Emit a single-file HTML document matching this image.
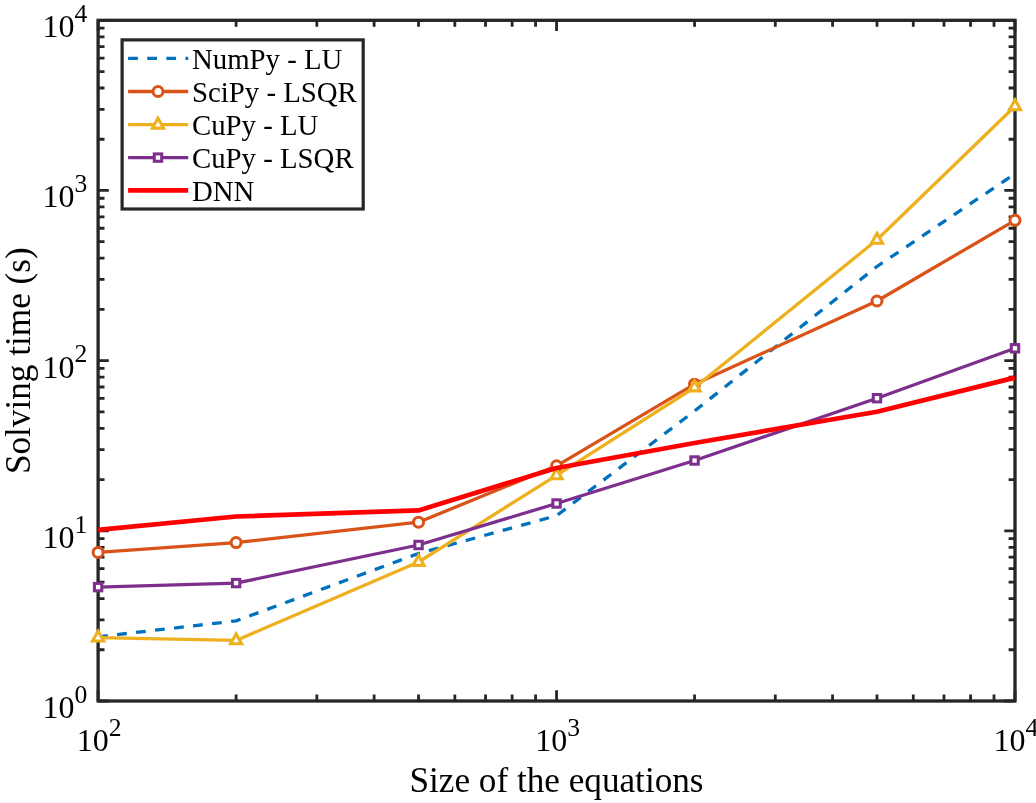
<!DOCTYPE html>
<html lang="en"><head><meta charset="utf-8"><title>Solving time vs size of the equations</title>
<style>
html,body{margin:0;padding:0;background:#fff;}
body{width:1036px;height:803px;overflow:hidden;}
svg{display:block;}
text{font-family:"Liberation Serif","Times New Roman",serif;fill:#000;}
.lg{font-size:28.8px;}
.tk{font-size:32px;}
.sp{font-size:25.6px;}
.al{font-size:35.2px;}
</style></head><body>
<svg width="1036" height="803" viewBox="0 0 1036 803">
<rect width="1036" height="803" fill="#fff"/>
<path d="M98.10 701.0v-10.7M98.10 20.3v10.7M236.11 701.0v-6.4M236.11 20.3v6.4M316.84 701.0v-6.4M316.84 20.3v6.4M374.11 701.0v-6.4M374.11 20.3v6.4M418.54 701.0v-6.4M418.54 20.3v6.4M454.84 701.0v-6.4M454.84 20.3v6.4M485.54 701.0v-6.4M485.54 20.3v6.4M512.12 701.0v-6.4M512.12 20.3v6.4M535.57 701.0v-6.4M535.57 20.3v6.4M556.55 701.0v-10.7M556.55 20.3v10.7M694.56 701.0v-6.4M694.56 20.3v6.4M775.29 701.0v-6.4M775.29 20.3v6.4M832.56 701.0v-6.4M832.56 20.3v6.4M876.99 701.0v-6.4M876.99 20.3v6.4M913.29 701.0v-6.4M913.29 20.3v6.4M943.99 701.0v-6.4M943.99 20.3v6.4M970.57 701.0v-6.4M970.57 20.3v6.4M994.02 701.0v-6.4M994.02 20.3v6.4M1015.00 701.0v-10.7M1015.00 20.3v10.7M98.1 701.00h10.7M1015.0 701.00h-10.7M98.1 649.77h6.4M1015.0 649.77h-6.4M98.1 619.81h6.4M1015.0 619.81h-6.4M98.1 598.54h6.4M1015.0 598.54h-6.4M98.1 582.05h6.4M1015.0 582.05h-6.4M98.1 568.58h6.4M1015.0 568.58h-6.4M98.1 557.19h6.4M1015.0 557.19h-6.4M98.1 547.32h6.4M1015.0 547.32h-6.4M98.1 538.61h6.4M1015.0 538.61h-6.4M98.1 530.83h10.7M1015.0 530.83h-10.7M98.1 479.60h6.4M1015.0 479.60h-6.4M98.1 449.63h6.4M1015.0 449.63h-6.4M98.1 428.37h6.4M1015.0 428.37h-6.4M98.1 411.88h6.4M1015.0 411.88h-6.4M98.1 398.40h6.4M1015.0 398.40h-6.4M98.1 387.01h6.4M1015.0 387.01h-6.4M98.1 377.14h6.4M1015.0 377.14h-6.4M98.1 368.44h6.4M1015.0 368.44h-6.4M98.1 360.65h10.7M1015.0 360.65h-10.7M98.1 309.42h6.4M1015.0 309.42h-6.4M98.1 279.46h6.4M1015.0 279.46h-6.4M98.1 258.19h6.4M1015.0 258.19h-6.4M98.1 241.70h6.4M1015.0 241.70h-6.4M98.1 228.23h6.4M1015.0 228.23h-6.4M98.1 216.84h6.4M1015.0 216.84h-6.4M98.1 206.97h6.4M1015.0 206.97h-6.4M98.1 198.26h6.4M1015.0 198.26h-6.4M98.1 190.47h10.7M1015.0 190.47h-10.7M98.1 139.25h6.4M1015.0 139.25h-6.4M98.1 109.28h6.4M1015.0 109.28h-6.4M98.1 88.02h6.4M1015.0 88.02h-6.4M98.1 71.53h6.4M1015.0 71.53h-6.4M98.1 58.05h6.4M1015.0 58.05h-6.4M98.1 46.66h6.4M1015.0 46.66h-6.4M98.1 36.79h6.4M1015.0 36.79h-6.4M98.1 28.09h6.4M1015.0 28.09h-6.4M98.1 20.30h10.7M1015.0 20.30h-10.7" stroke="#262626" stroke-width="2.8" fill="none"/>
<rect x="98.1" y="20.3" width="916.90" height="680.70" fill="none" stroke="#262626" stroke-width="3.3"/>
<polyline points="98.10,636.80 236.11,620.90 418.54,553.50 556.55,515.70 694.56,411.00 876.99,266.50 1015.00,173.80" fill="none" stroke="#0072BD" stroke-width="3.3" stroke-dasharray="9.75 9.37" stroke-linejoin="round"/>
<polyline points="98.10,552.40 236.11,542.60 418.54,522.20 556.55,465.80 694.56,384.20 876.99,301.00 1015.00,220.30" fill="none" stroke="#D95319" stroke-width="3.3" stroke-linejoin="round"/>
<circle cx="98.10" cy="552.40" r="5" fill="#fff" stroke="#D95319" stroke-width="3"/>
<circle cx="236.11" cy="542.60" r="5" fill="#fff" stroke="#D95319" stroke-width="3"/>
<circle cx="418.54" cy="522.20" r="5" fill="#fff" stroke="#D95319" stroke-width="3"/>
<circle cx="556.55" cy="465.80" r="5" fill="#fff" stroke="#D95319" stroke-width="3"/>
<circle cx="694.56" cy="384.20" r="5" fill="#fff" stroke="#D95319" stroke-width="3"/>
<circle cx="876.99" cy="301.00" r="5" fill="#fff" stroke="#D95319" stroke-width="3"/>
<circle cx="1015.00" cy="220.30" r="5" fill="#fff" stroke="#D95319" stroke-width="3"/>
<polyline points="98.10,637.60 236.11,640.40 418.54,562.00 556.55,475.30 694.56,387.50 876.99,239.80 1015.00,106.30" fill="none" stroke="#EDB120" stroke-width="3.3" stroke-linejoin="round"/>
<path d="M98.10 631.10L103.65 641.00L92.55 641.00Z" fill="#fff" stroke="#EDB120" stroke-width="3.1" stroke-miterlimit="10"/>
<path d="M236.11 633.90L241.66 643.80L230.56 643.80Z" fill="#fff" stroke="#EDB120" stroke-width="3.1" stroke-miterlimit="10"/>
<path d="M418.54 555.50L424.09 565.40L412.99 565.40Z" fill="#fff" stroke="#EDB120" stroke-width="3.1" stroke-miterlimit="10"/>
<path d="M556.55 468.80L562.10 478.70L551.00 478.70Z" fill="#fff" stroke="#EDB120" stroke-width="3.1" stroke-miterlimit="10"/>
<path d="M694.56 381.00L700.11 390.90L689.01 390.90Z" fill="#fff" stroke="#EDB120" stroke-width="3.1" stroke-miterlimit="10"/>
<path d="M876.99 233.30L882.54 243.20L871.44 243.20Z" fill="#fff" stroke="#EDB120" stroke-width="3.1" stroke-miterlimit="10"/>
<path d="M1015.00 99.80L1020.55 109.70L1009.45 109.70Z" fill="#fff" stroke="#EDB120" stroke-width="3.1" stroke-miterlimit="10"/>
<polyline points="98.10,587.10 236.11,583.10 418.54,545.00 556.55,503.50 694.56,460.50 876.99,398.20 1015.00,348.30" fill="none" stroke="#7E2F8E" stroke-width="3.3" stroke-linejoin="round"/>
<rect x="94.40" y="583.40" width="7.4" height="7.4" fill="#fff" stroke="#7E2F8E" stroke-width="3.05"/>
<rect x="232.41" y="579.40" width="7.4" height="7.4" fill="#fff" stroke="#7E2F8E" stroke-width="3.05"/>
<rect x="414.84" y="541.30" width="7.4" height="7.4" fill="#fff" stroke="#7E2F8E" stroke-width="3.05"/>
<rect x="552.85" y="499.80" width="7.4" height="7.4" fill="#fff" stroke="#7E2F8E" stroke-width="3.05"/>
<rect x="690.86" y="456.80" width="7.4" height="7.4" fill="#fff" stroke="#7E2F8E" stroke-width="3.05"/>
<rect x="873.29" y="394.50" width="7.4" height="7.4" fill="#fff" stroke="#7E2F8E" stroke-width="3.05"/>
<rect x="1011.30" y="344.60" width="7.4" height="7.4" fill="#fff" stroke="#7E2F8E" stroke-width="3.05"/>
<polyline points="98.10,529.90 236.11,516.50 418.54,510.40 556.55,468.00 694.56,443.00 876.99,411.70 1015.00,377.60" fill="none" stroke="#FF0000" stroke-width="4.7" stroke-linejoin="round"/>
<rect x="122.1" y="39.9" width="241.10" height="169.10" fill="#fff" stroke="#262626" stroke-width="3.2"/>
<path d="M128.1 58.4H188.2" stroke="#0072BD" stroke-width="3.3" fill="none" stroke-dasharray="9.75 9.37"/>
<text class="lg" x="192.0" y="68.80">NumPy - LU</text>
<path d="M128.1 91.5H188.2" stroke="#D95319" stroke-width="3.3" fill="none"/>
<circle cx="158.00" cy="91.50" r="5" fill="#fff" stroke="#D95319" stroke-width="3"/>
<text class="lg" x="192.0" y="101.90">SciPy - LSQR</text>
<path d="M128.1 124.7H188.2" stroke="#EDB120" stroke-width="3.3" fill="none"/>
<path d="M158.00 118.20L163.55 128.10L152.45 128.10Z" fill="#fff" stroke="#EDB120" stroke-width="3.1" stroke-miterlimit="10"/>
<text class="lg" x="192.0" y="135.10">CuPy - LU</text>
<path d="M128.1 157.6H188.2" stroke="#7E2F8E" stroke-width="3.3" fill="none"/>
<rect x="154.30" y="153.90" width="7.4" height="7.4" fill="#fff" stroke="#7E2F8E" stroke-width="3.05"/>
<text class="lg" x="192.0" y="168.00">CuPy - LSQR</text>
<path d="M128.1 190.3H188.2" stroke="#FF0000" stroke-width="4.7" fill="none"/>
<text class="lg" x="192.0" y="200.70">DNN</text>
<text class="tk" x="87.20" y="718.00" text-anchor="end">10<tspan class="sp" dy="-15.2">0</tspan></text>
<text class="tk" x="87.20" y="547.83" text-anchor="end">10<tspan class="sp" dy="-15.2">1</tspan></text>
<text class="tk" x="87.20" y="377.65" text-anchor="end">10<tspan class="sp" dy="-15.2">2</tspan></text>
<text class="tk" x="87.20" y="207.47" text-anchor="end">10<tspan class="sp" dy="-15.2">3</tspan></text>
<text class="tk" x="87.20" y="37.30" text-anchor="end">10<tspan class="sp" dy="-15.2">4</tspan></text>
<text class="tk" x="99.10" y="751.00" text-anchor="middle">10<tspan class="sp" dy="-15.2">2</tspan></text>
<text class="tk" x="557.55" y="751.00" text-anchor="middle">10<tspan class="sp" dy="-15.2">3</tspan></text>
<text class="tk" x="1016.00" y="751.00" text-anchor="middle">10<tspan class="sp" dy="-15.2">4</tspan></text>
<text class="al" x="556.5" y="791.5" text-anchor="middle">Size of the equations</text>
<text class="al" transform="translate(30.1 360.7) rotate(-90)" text-anchor="middle">Solving time (s)</text>
</svg>
</body></html>
